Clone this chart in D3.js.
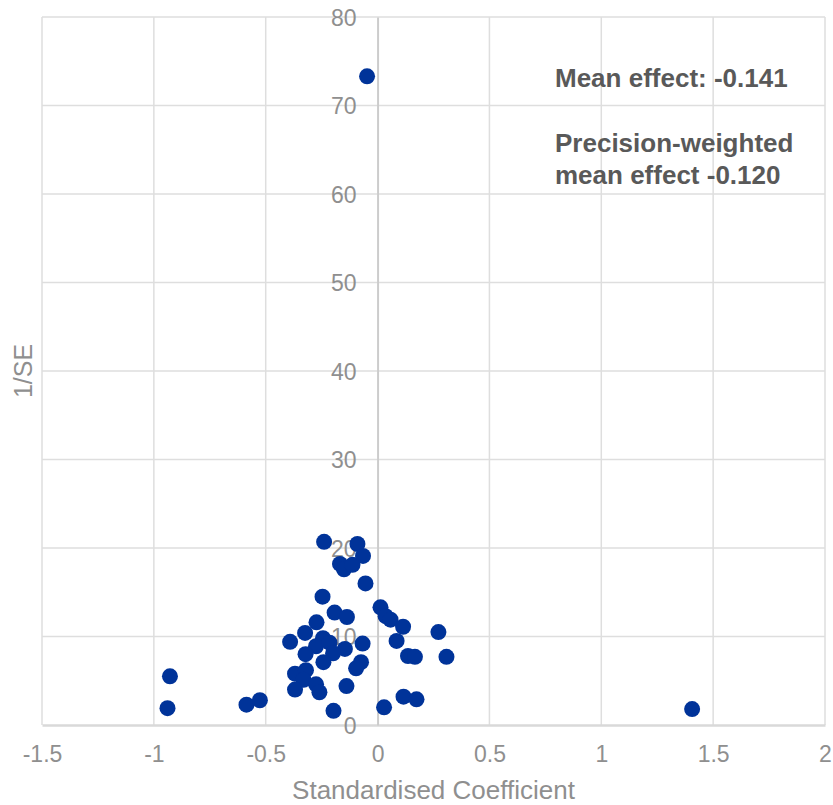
<!DOCTYPE html>
<html>
<head>
<meta charset="utf-8">
<script src="https://cdn.jsdelivr.net/npm/d3@7"></script>
<style>
  body { margin: 0; background: #fff; }
  text { font-family: "Liberation Sans", Arial, sans-serif; }
</style>
</head>
<body>
<div class="canvas"></div>
<script>
// data
const coef = [-0.047, -0.239, -0.090, -0.065, -0.168, -0.150, -0.112, -0.054, -0.246, 0.013,
              0.036, 0.058, -0.192, -0.137, 0.114, -0.273, 0.272, -0.324, -0.391, -0.244,
              -0.275, -0.215, -0.146, -0.199, -0.322, -0.242, -0.067, -0.074, -0.096, 0.085,
              0.136, 0.167, 0.308, -0.369, -0.320, -0.331, -0.275, -0.369, -0.260, -0.139,
              -0.197, 0.029, 0.116, 0.174, -0.928, -0.939, -0.586, -0.526, 1.406];
const invSE = [73.3, 20.7, 20.45, 19.1, 18.2, 17.6, 18.1, 16.0, 14.5, 13.3,
               12.3, 11.9, 12.7, 12.2, 11.1, 11.6, 10.5, 10.4, 9.4, 9.8,
               8.9, 9.3, 8.6, 8.1, 8.0, 7.1, 9.2, 7.1, 6.4, 9.5,
               7.8, 7.7, 7.7, 5.8, 6.2, 5.1, 4.6, 4.0, 3.7, 4.4,
               1.6, 2.0, 3.2, 2.9, 5.5, 1.9, 2.3, 2.8, 1.8];
const xTicks = [-1.5, -1, -0.5, 0, 0.5, 1, 1.5, 2];
const yTicks = [0, 10, 20, 30, 40, 50, 60, 70, 80];
const notes = ['Mean effect: -0.141', 'Precision-weighted', 'mean effect -0.120'];

const points = coef.map((c, i) => ({x: c, y: invSE[i]}));

const width = 833, height = 805;
const margin = {top: 17, right: 8, bottom: 80, left: 42};

const svg = d3.select('.canvas')
    .append('svg')
        .attr('width', width)
        .attr('height', height);

const x = d3.scaleLinear()
    .domain([-1.5, 2])
    .range([margin.left, width - margin.right]);

const y = d3.scaleLinear()
    .domain([0, 80])
    .range([height - margin.bottom, margin.top]);

const grid = '#dedede';
const tickColour = '#8f8f8f';

// vertical gridlines
svg.append('g')
    .selectAll('line')
    .data(xTicks.filter(d => d !== 0))
    .enter()
    .append('line')
        .attr('x1', d => x(d))
        .attr('x2', d => x(d))
        .attr('y1', y(80))
        .attr('y2', y(0))
        .attr('stroke', grid)
        .attr('stroke-width', 1.5);

// horizontal gridlines
svg.append('g')
    .selectAll('line')
    .data(yTicks.filter(d => d !== 0))
    .enter()
    .append('line')
        .attr('x1', x(-1.5))
        .attr('x2', x(2))
        .attr('y1', d => y(d))
        .attr('y2', d => y(d))
        .attr('stroke', grid)
        .attr('stroke-width', 1.5);

// x axis along y = 0
const xAxis = svg.append('g')
    .attr('transform', `translate(0, ${y(0)})`)
    .call(d3.axisBottom(x).tickValues(xTicks).tickSize(0).tickFormat(d => String(d)));

xAxis.select('.domain')
    .attr('stroke', '#d9d9d9')
    .attr('stroke-width', 2.5);

xAxis.selectAll('text')
    .attr('fill', tickColour)
    .attr('font-size', 23)
    .attr('font-family', '"Liberation Sans", Arial, sans-serif')
    .attr('dy', null)
    .attr('y', 37);

// y axis along x = 0
const yAxis = svg.append('g')
    .attr('transform', `translate(${x(0)}, 0)`)
    .call(d3.axisLeft(y).tickValues(yTicks).tickSize(0));

yAxis.select('.domain')
    .attr('stroke', '#cccccc')
    .attr('stroke-width', 2);

yAxis.selectAll('text')
    .attr('fill', tickColour)
    .attr('font-size', 23)
    .attr('font-family', '"Liberation Sans", Arial, sans-serif')
    .attr('x', -21)
    .attr('dy', '0.36em');

// axis titles
svg.append('text')
    .attr('x', (x(-1.5) + x(2)) / 2)
    .attr('y', 799)
    .attr('text-anchor', 'middle')
    .attr('fill', tickColour)
    .attr('font-size', 26)
    .text('Standardised Coefficient');

svg.append('text')
    .attr('transform', `translate(32, ${y(40)}) rotate(-90)`)
    .attr('text-anchor', 'middle')
    .attr('fill', tickColour)
    .attr('font-size', 25)
    .text('1/SE');

// points
svg.append('g')
    .selectAll('circle')
    .data(points)
    .enter()
    .append('circle')
        .attr('cx', d => x(d.x))
        .attr('cy', d => y(d.y))
        .attr('r', 8)
        .attr('fill', '#003399');

// annotation
const noteY = [87, 152, 184];
svg.append('g')
    .selectAll('text')
    .data(notes)
    .enter()
    .append('text')
        .attr('x', 555)
        .attr('y', (d, i) => noteY[i])
        .attr('fill', '#595959')
        .attr('font-size', 26)
        .attr('font-weight', 'bold')
        .text(d => d);
</script>
</body>
</html>
